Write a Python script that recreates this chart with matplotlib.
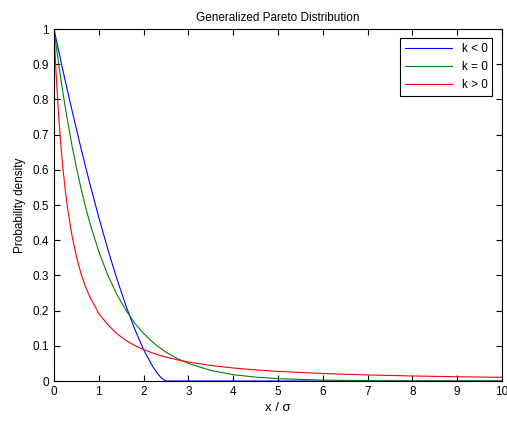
import matplotlib
matplotlib.use("Agg")
import matplotlib.pyplot as plt

# values
x = [0, 0.01, 0.02, 0.03, 0.05, 0.1, 0.15, 0.2, 0.25, 0.3, 0.4, 0.5, 0.6, 0.7, 0.8,
     1.0, 1.2, 1.4, 1.6, 1.8, 2.0, 2.2, 2.3, 2.4, 2.5, 2.75, 3, 3.5, 4, 4.5, 5,
     6, 7, 8, 9, 10]
k_neg = [1, 0.994, 0.988, 0.982, 0.970, 0.941, 0.911, 0.882, 0.854, 0.826, 0.770,
         0.716, 0.663, 0.611, 0.561, 0.465, 0.375, 0.292, 0.216, 0.148, 0.089,
         0.042, 0.023, 0.008, 0, 0, 0, 0, 0, 0, 0, 0, 0, 0, 0, 0]
k_zero = [1, 0.990, 0.980, 0.970, 0.951, 0.905, 0.861, 0.819, 0.779, 0.741, 0.670,
          0.607, 0.549, 0.497, 0.449, 0.368, 0.301, 0.247, 0.202, 0.165, 0.135,
          0.111, 0.100, 0.091, 0.082, 0.064, 0.050, 0.030, 0.018, 0.011, 0.0067,
          0.0025, 0.0009, 0.0003, 0.0001, 0.00005]
k_pos = [1, 0.971, 0.943, 0.916, 0.867, 0.761, 0.675, 0.604, 0.544, 0.494, 0.414,
         0.354, 0.306, 0.269, 0.239, 0.192, 0.160, 0.135, 0.116, 0.101, 0.0894,
         0.0797, 0.0755, 0.0716, 0.0680, 0.0603, 0.0540, 0.0442, 0.0370, 0.0316,
         0.0274, 0.0213, 0.0172, 0.0143, 0.0121, 0.0104]
labels = ["k < 0", "k = 0", "k > 0"]

plt.rcParams['font.family'] = ['Liberation Sans', 'DejaVu Sans']
plt.rcParams['font.size'] = 8.5

fig = plt.figure(figsize=(5.07, 4.21), dpi=100)
ax = fig.add_axes([0.1065, 0.095, 0.8835, 0.836])

ax.plot(x, k_neg, color=(0, 0, 1), lw=0.8, label=labels[0])
ax.plot(x, k_zero, color=(0, 0.5, 0), lw=0.8, label=labels[1])
ax.plot(x, k_pos, color=(1, 0, 0), lw=0.8, label=labels[2])

ax.set_xlim(0, 10)
ax.set_ylim(0, 1)
ax.set_xticks(range(0, 11))
ax.set_yticks([i / 10 for i in range(11)])
ax.set_yticklabels(["0", "0.1", "0.2", "0.3", "0.4", "0.5", "0.6", "0.7", "0.8", "0.9", "1"])
ax.tick_params(direction='in', top=True, right=True, length=4, width=0.8)
for s in ax.spines.values():
    s.set_linewidth(0.8)

ax.set_title("Generalized Pareto Distribution", fontsize=8.5, pad=6)
ax.set_xlabel("x / σ", fontsize=9.5, labelpad=3)
ax.set_ylabel("Probability density", fontsize=8.5, labelpad=5)

leg = ax.legend(loc='upper right', fancybox=False, edgecolor='black',
                borderaxespad=0.8, handlelength=4, framealpha=1)
leg.get_frame().set_linewidth(0.8)

fig.savefig("out.png", dpi=100)
